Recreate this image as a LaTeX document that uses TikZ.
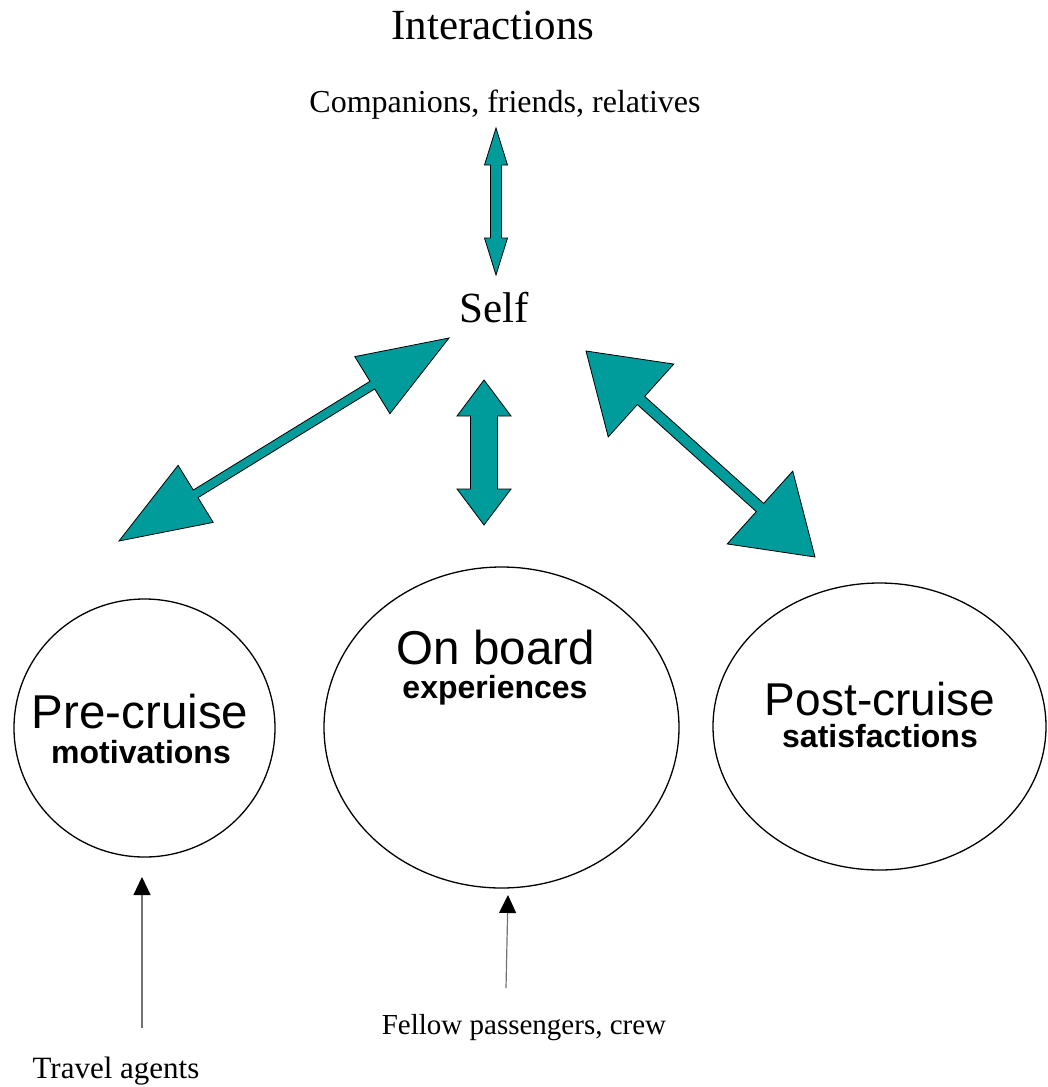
\documentclass[tikz,border=0pt]{standalone}
\usepackage{fontspec}
\setmainfont{Liberation Serif}
\setsansfont{Liberation Sans}
\usetikzlibrary{calc,arrows.meta,shapes.geometric}
\definecolor{tealfill}{RGB}{0,155,155}
\tikzset{
  fat/.style={fill=tealfill, draw=black, line width=0.8pt, line join=miter},
  bubble/.style={ellipse, draw=black, line width=1.3pt, inner sep=0pt},
  serifbig/.style={font=\fontsize{43}{50}\selectfont, anchor=base, inner sep=0pt},
  serifsmall/.style={font=\fontsize{31}{36}\selectfont, anchor=base, inner sep=0pt},
  sanstitle/.style={font=\sffamily\fontsize{46}{54}\selectfont, anchor=base, inner sep=0pt},
  sanssub/.style={font=\sffamily\bfseries\fontsize{32}{38}\selectfont, anchor=base, inner sep=0pt},
  pointer/.style={draw=black!55, line width=1.2pt, -{Triangle[width=17pt,length=18pt,fill=black,color=black]}},
}
% #1 tip A, #2 tip B, #3 head length, #4 half head width, #5 half shaft width
\newcommand{\fatdouble}[5]{%
  \filldraw[fat] (#1)
    -- ($(#1)!#3!(#2)!#4!90:(#2)$)
    -- ($(#1)!#3!(#2)!#5!90:(#2)$)
    -- ($(#2)!#3!(#1)!#5!-90:(#1)$)
    -- ($(#2)!#3!(#1)!#4!-90:(#1)$)
    -- (#2)
    -- ($(#2)!#3!(#1)!#4!90:(#1)$)
    -- ($(#2)!#3!(#1)!#5!90:(#1)$)
    -- ($(#1)!#3!(#2)!#5!-90:(#2)$)
    -- ($(#1)!#3!(#2)!#4!-90:(#2)$)
    -- cycle;}
\begin{document}
\begin{tikzpicture}[x=1pt,y=-1pt]
\useasboundingbox (0,0) rectangle (1047,1087);

% texts
\node[serifbig] (inter) at (493,39) {Interactions};
\node[serifsmall, font=\fontsize{32}{38}\selectfont] (comp) at (505,112) {Companions, friends, relatives};
\node[serifbig] (self) at (494,322) {Self};

% circles
\node[bubble, minimum width=261pt, minimum height=258pt] (pre) at (144.5,728) {};
\node[bubble, minimum width=355pt, minimum height=321pt] (onb) at (501.5,727.5) {};
\node[bubble, minimum width=333pt, minimum height=287pt] (post) at (879.5,726.5) {};

\node[sanstitle, font=\sffamily\fontsize{47.5}{54}\selectfont] (pret) at (140,728) {Pre-cruise};
\node[sanssub] (pres) at (141,763) {motivations};
\node[sanstitle, font=\sffamily\fontsize{47.5}{54}\selectfont] (onbt) at (496,664) {On board};
\node[sanssub] (onbs) at (495,698) {experiences};
\node[sanstitle] (postt) at (880,715) {Post-cruise};
\node[sanssub] (posts) at (880,747) {satisfactions};

\node[serifsmall, font=\fontsize{29}{34}\selectfont] (fellow) at (524,1034) {Fellow passengers, crew};
\node[serifsmall] (travel) at (116,1078) {Travel agents};

% fat double arrows
\coordinate (t1a) at (496,128);
\coordinate (t1b) at (496,275);
\fatdouble{t1a}{t1b}{37pt}{11.5pt}{5.5pt}

\coordinate (mA) at (484,380);
\coordinate (mB) at (484,525);
\fatdouble{mA}{mB}{36pt}{27pt}{13.5pt}

\coordinate (lA) at (449,338);
\coordinate (lB) at (119,541);
\fatdouble{lA}{lB}{90pt}{33.5pt}{4.5pt}

\coordinate (rA) at (586,351);
\coordinate (rB) at (815,557);
\fatdouble{rA}{rB}{74pt}{49pt}{5.5pt}

% thin pointers
\coordinate (ta) at (142,1028);
\coordinate (tb) at (142,877);
\draw[pointer] (ta) -- (tb);
\coordinate (fa) at (506,988);
\coordinate (fb) at (508,895);
\draw[pointer] (fa) -- (fb);
\end{tikzpicture}
\end{document}
